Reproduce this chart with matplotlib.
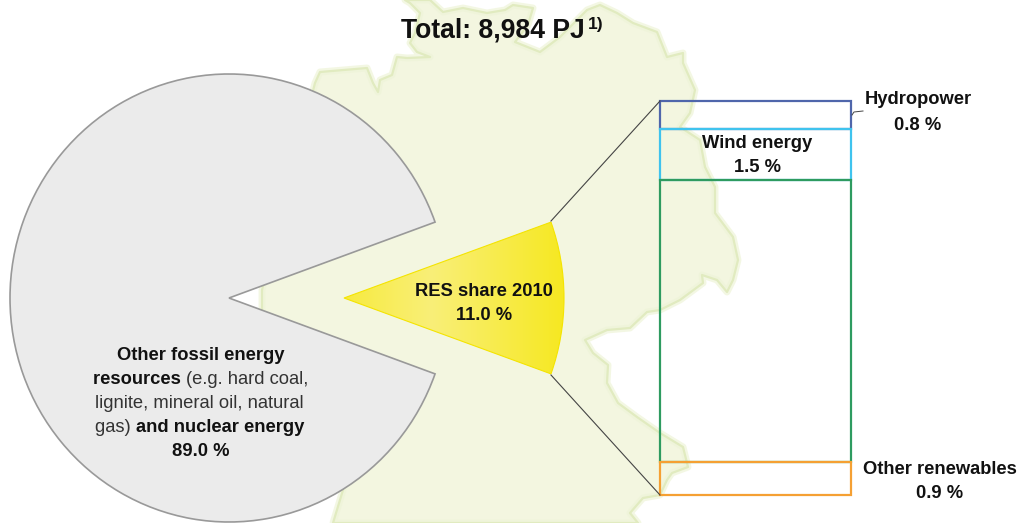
#!/usr/bin/env python
# Share of renewables in the German primary energy supply, 2010

import matplotlib
matplotlib.use('Agg')
import matplotlib.pyplot as plt
import numpy as np
from matplotlib.patches import Polygon

W, H = 1023, 523

plt.rcParams['font.family'] = ['Liberation Sans', 'DejaVu Sans']

# Data
pie_labels = ['Other', 'RES']
pie_shares = [89.0, 11.0]

bar_names = ['Hydropower', 'Wind energy', 'Biomass', 'Other renewables']
# heights as drawn in the source, they differ a bit from the printed percents
bar_heights = [0.78, 1.42, 7.87, 0.93]
bar_colors = ['#4f66ab', '#3fc3ee', '#2e9b60', '#f5a033']

title_text = 'Total: 8,984 PJ'
title_note = '1)'

# Outline of the background map, in pixels of the figure
map_x = [315, 320, 367, 373, 378, 380, 392, 397, 407, 430, 417, 410, 415, 420,
         410, 405, 430, 443, 463, 487, 505, 513, 533, 528, 515, 540, 560, 587,
         600, 617, 633, 657, 667, 683, 683, 695, 690, 680, 700, 705, 715, 715,
         733, 738, 733, 727, 717, 702, 703, 680, 660, 647, 630, 607, 585, 593,
         608, 607, 618, 637, 660, 683, 688, 672, 667, 660, 643, 630, 638, 333,
         343, 300, 262, 262, 290]
map_y = [83, 72, 68, 83, 92, 80, 75, 57, 58, 57, 52, 43, 33, 13,
         3, 0, 0, 12, 8, 13, 10, 5, 8, 25, 42, 52, 37, 10,
         5, 13, 23, 32, 57, 53, 63, 90, 113, 127, 140, 167, 187, 213,
         237, 260, 280, 292, 280, 275, 283, 300, 310, 312, 328, 330, 340, 353,
         365, 383, 403, 417, 433, 447, 467, 473, 480, 495, 498, 513, 523, 523,
         490, 400, 310, 290, 180]


def pixel_axes(x0, y0, x1, y1, **kwargs):
    # axes placed by its box in picture pixels, y running down
    return fig.add_axes([x0 / W, 1 - y1 / H, (x1 - x0) / W, (y1 - y0) / H], **kwargs)


def write_line(ax, xc, yc, runs, size=13.2):
    # one centred line made of runs with different weights
    renderer = fig.canvas.get_renderer()
    texts = [ax.text(0, yc + 1, s, fontsize=size, fontweight=w, color=c, va='center', ha='left')
             for s, w, c in runs]
    widths = [t.get_window_extent(renderer).width for t in texts]
    x = xc - sum(widths) / 2
    for t, w in zip(texts, widths):
        t.set_x(x)
        x += w


fig = plt.figure(figsize=(W / 100, H / 100), dpi=100, facecolor='white')

# Background map
ax = pixel_axes(0, 0, W, H, zorder=0)
ax.set_xlim(0, W)
ax.set_ylim(H, 0)
ax.axis('off')
outline = np.column_stack([map_x, map_y])
ax.add_patch(Polygon(outline, closed=True, facecolor='#f3f6e0', edgecolor='none', zorder=1))
ax.add_patch(Polygon(outline, closed=True, fill=False, edgecolor='#eef4d8', lw=5, alpha=0.7,
                     joinstyle='round', zorder=2))
ax.add_patch(Polygon(outline, closed=True, fill=False, edgecolor='#e1ebc0', lw=1.6,
                     joinstyle='round', zorder=3))

# Big pie, the RES slice is left out and drawn again beside it
half = 360 * pie_shares[1] / sum(pie_shares) / 2
ax_big = pixel_axes(10, 74, 448, 522, zorder=1)
big, _ = ax_big.pie(pie_shares, colors=['#ebebeb', 'none'], startangle=half, radius=1,
                    wedgeprops={'linewidth': 1.2, 'edgecolor': '#999999'})
big[1].set_visible(False)
ax_big.set_aspect('auto')
ax_big.set_xlim(-1, 1)
ax_big.set_ylim(-1, 1)
ax_big.axis('off')

# Yellow slice, same size as the big pie
ax_small = pixel_axes(124, 74, 564, 522, zorder=2)
small, _ = ax_small.pie(pie_shares[::-1], colors=['none', 'none'], startangle=-half, radius=1,
                        wedgeprops={'linewidth': 0})
small[1].set_visible(False)
ax_small.set_aspect('auto')
shade = np.clip(np.abs(np.linspace(0, 1, 400) * 2 - 1.4) * 1.6, 0, 1)
shade[:200] = 1
low = np.array(matplotlib.colors.to_rgb('#f9ef78'))
high = np.array(matplotlib.colors.to_rgb('#f6e81e'))
rgb = low + (high - low) * shade[:, None]
img = ax_small.imshow(rgb[None, :, :], extent=[-1, 1, -1, 1], aspect='auto', zorder=3)
img.set_clip_path(small[0])
small[0].set_zorder(4)
small[0].set_edgecolor('#f4e400')
small[0].set_linewidth(0.8)
ax_small.set_xlim(-1, 1)
ax_small.set_ylim(-1, 1)
ax_small.axis('off')

# Stacked column, only the frames are drawn
ax_bar = pixel_axes(660, 101, 851, 495, zorder=3)
ax_bar.patch.set_alpha(0)
ax_bar.set_xlim(0, 1)
ax_bar.set_ylim(sum(bar_heights), 0)
ax_bar.axis('off')
bottom = 0
for name, val, col in zip(bar_names, bar_heights, bar_colors):
    ax_bar.bar(0.5, val, width=1, bottom=bottom, fill=False, edgecolor=col, linewidth=1.6,
               clip_on=False, label=name)
    bottom += val

# Texts and thin lines on top
top = pixel_axes(0, 0, W, H, zorder=4)
top.patch.set_alpha(0)
top.set_xlim(0, W)
top.set_ylim(H, 0)
top.axis('off')

top.plot([551, 660], [221, 101], color='#444444', lw=0.8)
top.plot([551, 660], [375, 495], color='#444444', lw=0.8)
top.plot([852, 854, 863], [115, 112, 111], color='#444444', lw=0.7)

ink = '#111111'
soft = '#333333'
top.text(401, 38, title_text, fontsize=19.1, fontweight='bold', color=ink, ha='left', va='baseline')
top.text(588, 29, title_note, fontsize=12.5, fontweight='bold', color=ink, ha='left', va='baseline')

write_line(top, 918, 99, [('Hydropower', 'bold', ink)])
write_line(top, 918, 124, [('0.8 %', 'bold', ink)])
write_line(top, 757, 143, [('Wind energy', 'bold', ink)])
write_line(top, 757, 167, [('1.5 %', 'bold', ink)])
write_line(top, 940, 468, [('Other renewables', 'bold', ink)])
write_line(top, 940, 492, [('0.9 %', 'bold', ink)])
write_line(top, 484, 291, [('RES share 2010', 'bold', ink)])
write_line(top, 484, 315, [('11.0 %', 'bold', ink)])

write_line(top, 201, 355, [('Other fossil energy', 'bold', ink)])
write_line(top, 201, 379, [('resources ', 'bold', ink), ('(e.g. hard coal,', 'normal', soft)])
write_line(top, 199, 403, [('lignite, mineral oil, natural', 'normal', soft)])
write_line(top, 200, 427, [('gas) ', 'normal', soft), ('and nuclear energy', 'bold', ink)])
write_line(top, 201, 451, [('89.0 %', 'bold', ink)])

fig.savefig('out.png', dpi=100)
